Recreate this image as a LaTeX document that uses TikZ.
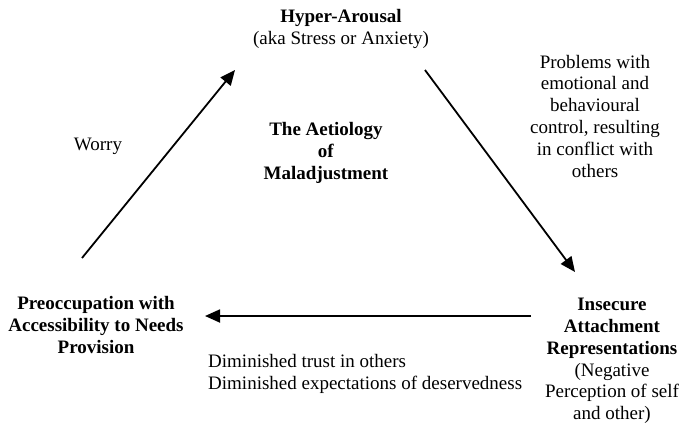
\documentclass[tikz,border=0pt]{standalone}
\usepackage{fontspec}
\setmainfont{Liberation Serif}
\usetikzlibrary{arrows.meta}
\begin{document}
\begin{tikzpicture}[x=1pt,y=-1pt,
  txt/.style={inner sep=0pt,align=center,font=\fontsize{19}{21.8}\selectfont},
  flow/.style={line width=1.8pt,-{Triangle[length=15pt,width=13pt]}}]
\useasboundingbox (0,0) rectangle (685,423);
% labels
\node[txt] (hyper) at (341,29) {\textbf{Hyper-Arousal}\\(aka Stress or Anxiety)};
\node[txt] (title) at (326,153) {\textbf{The Aetiology}\\\textbf{of}\\\textbf{Maladjustment}};
\node[txt] (worry) at (98,146) {Worry};
\node[txt] (problems) at (595,116) {Problems with\\emotional and\\behavioural\\control, resulting\\in conflict with\\others};
\node[txt] (insecure) at (612,361) {\textbf{Insecure}\\\textbf{Attachment}\\\textbf{Representations}\\(Negative\\Perception of self\\and other)};
\node[txt] (preocc) at (96,325) {\textbf{Preoccupation with}\\\textbf{Accessibility to Needs}\\\textbf{Provision}};
\node[txt,align=left,anchor=west] (trust) at (208,374) {Diminished trust in others\\Diminished expectations of deservedness};
% arrow end points
\coordinate (p1) at (82,258);
\coordinate (p2) at (235,70);
\coordinate (q1) at (425,70);
\coordinate (q2) at (575,272);
\coordinate (r1) at (531,316);
\coordinate (r2) at (205,316);
% connectors
\draw[flow] (p1) -- (p2);
\draw[flow] (q1) -- (q2);
\draw[flow] (r1) -- (r2);
\end{tikzpicture}
\end{document}
